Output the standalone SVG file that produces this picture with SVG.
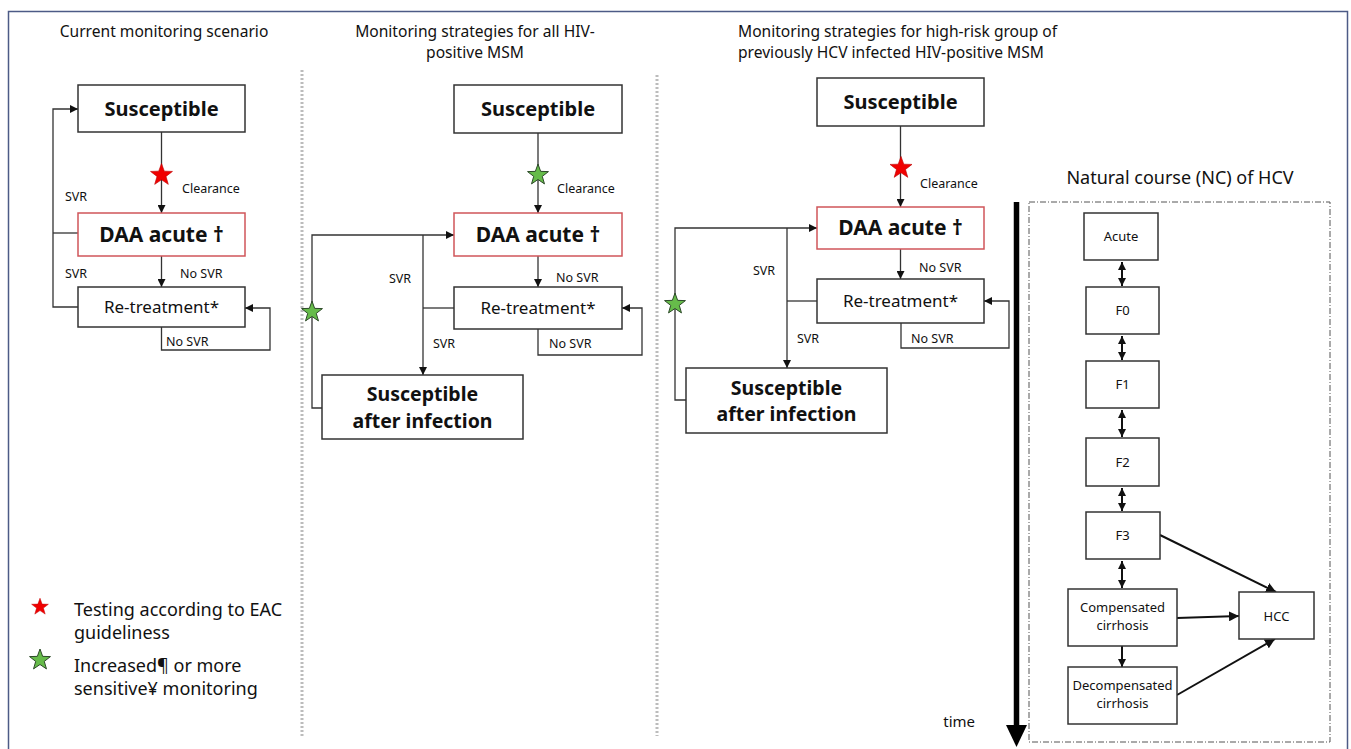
<svg xmlns="http://www.w3.org/2000/svg" width="1351" height="749" viewBox="0 0 1351 749">
<style>
text{font-family:"Noto Sans","Open Sans",sans-serif;fill:#111}
.title{font-size:15.6px}
.big{font-size:20px;font-weight:bold;text-anchor:middle}
.big2{font-size:19.5px;font-weight:bold;text-anchor:middle}
.daa{font-size:21px;font-weight:bold;text-anchor:middle}
.ret{font-size:17px;text-anchor:middle}
.lbl{font-size:12.5px}
.nc{font-size:13px;text-anchor:middle}
.leg{font-size:18px}
.box{fill:#fff;stroke:#333;stroke-width:1.5}
.rbox{fill:#fff;stroke:#d0555a;stroke-width:1.5}
.con{fill:none;stroke:#333;stroke-width:1.3}
.ncl{fill:none;stroke:#111;stroke-width:2}
.sep{stroke:#bcbcbc;stroke-width:3;stroke-dasharray:2 2}
.red{fill:#f00000;stroke:#c00000;stroke-width:0.6}
.grn{fill:#66bb4a;stroke:#2e4a2a;stroke-width:1}
</style>
<defs>
<marker id="arr" viewBox="0 0 8 8" refX="8" refY="4" markerWidth="8" markerHeight="8" markerUnits="userSpaceOnUse" orient="auto-start-reverse">
<path d="M0,0 L8,4 L0,8 Z" fill="#111"/>
</marker>
<marker id="arr2" viewBox="0 0 10 10" refX="10" refY="5" markerWidth="10" markerHeight="10" markerUnits="userSpaceOnUse" orient="auto-start-reverse">
<path d="M0,0 L10,5 L0,10 Z" fill="#111"/>
</marker>
<path id="star" d="M0,-11 L2.65,-3.64 L10.46,-3.4 L4.28,1.39 L6.47,8.9 L0,4.5 L-6.47,8.9 L-4.28,1.39 L-10.46,-3.4 L-2.65,-3.64 Z"/>
</defs>
<rect x="8.5" y="11.5" width="1339" height="760" fill="#fff" stroke="#4d5b86" stroke-width="1.5"/>
<g id="separators">
<line class="sep" x1="302" y1="70" x2="302" y2="736"/>
<line class="sep" x1="657" y1="75" x2="657" y2="736"/>
</g>
<g id="titles">
<text class="title" x="164" y="37" text-anchor="middle">Current monitoring scenario</text>
<text class="title" x="475" y="37" text-anchor="middle">Monitoring strategies for all HIV-</text>
<text class="title" x="475" y="58" text-anchor="middle">positive MSM</text>
<text class="title" x="738" y="37">Monitoring strategies for high-risk group of</text>
<text class="title" x="738" y="58">previously HCV infected HIV-positive MSM</text>
<text x="1180" y="184" text-anchor="middle" style="font-size:18px">Natural course (NC) of HCV</text>
</g>
<g id="connectors">
<line class="con" x1="161.5" y1="132" x2="161.5" y2="213" marker-end="url(#arr)"/>
<line class="con" x1="161.5" y1="256" x2="161.5" y2="287" marker-end="url(#arr)"/>
<path class="con" d="M78,307 H53 V109 H78" marker-end="url(#arr)"/>
<path class="con" d="M78,233 H53"/>
<path class="con" d="M161.5,327 V350 H270 V308 H245" marker-end="url(#arr)"/>
<line class="con" x1="538" y1="133" x2="538" y2="213" marker-end="url(#arr)"/>
<line class="con" x1="538" y1="256" x2="538" y2="287" marker-end="url(#arr)"/>
<path class="con" d="M322,408 H312 V235 H454" marker-end="url(#arr)"/>
<path class="con" d="M454,308 H423"/>
<path class="con" d="M423,235 V375" marker-end="url(#arr)"/>
<path class="con" d="M538,329 V355 H642 V308 H622" marker-end="url(#arr)"/>
<line class="con" x1="900.5" y1="126" x2="900.5" y2="207" marker-end="url(#arr)"/>
<line class="con" x1="900.5" y1="249" x2="900.5" y2="279" marker-end="url(#arr)"/>
<path class="con" d="M686,400 H675 V228 H817" marker-end="url(#arr)"/>
<path class="con" d="M817,301 H787"/>
<path class="con" d="M787,228 V368" marker-end="url(#arr)"/>
<path class="con" d="M901,323 V348 H1009 V301 H984" marker-end="url(#arr)"/>
<line class="ncl" x1="1122" y1="262" x2="1122" y2="286" marker-start="url(#arr)" marker-end="url(#arr)"/>
<line class="ncl" x1="1122" y1="336" x2="1122" y2="360" marker-start="url(#arr)" marker-end="url(#arr)"/>
<line class="ncl" x1="1122" y1="410" x2="1122" y2="437" marker-start="url(#arr)" marker-end="url(#arr)"/>
<line class="ncl" x1="1122" y1="488" x2="1122" y2="511" marker-start="url(#arr)" marker-end="url(#arr)"/>
<line class="ncl" x1="1122" y1="561" x2="1122" y2="588" marker-start="url(#arr)" marker-end="url(#arr)"/>
<line class="ncl" x1="1122" y1="646" x2="1122" y2="667" marker-end="url(#arr)"/>
<line class="ncl" x1="1160" y1="535" x2="1276" y2="592" marker-end="url(#arr2)"/>
<line class="ncl" x1="1177" y1="618" x2="1239" y2="616" marker-end="url(#arr2)"/>
<line class="ncl" x1="1177" y1="695" x2="1275" y2="639" marker-end="url(#arr2)"/>
<line x1="1016.5" y1="202" x2="1016.5" y2="728" stroke="#000" stroke-width="5.5"/>
<polygon points="1006,725 1027,725 1016.5,747" fill="#000"/>
</g>
<g id="labels">
<text class="lbl" x="182" y="193">Clearance</text>
<text class="lbl" x="65" y="201">SVR</text>
<text class="lbl" x="65" y="278">SVR</text>
<text class="lbl" x="180" y="278">No SVR</text>
<text class="lbl" x="166" y="346">No SVR</text>
<text class="lbl" x="557" y="193">Clearance</text>
<text class="lbl" x="389" y="283">SVR</text>
<text class="lbl" x="556" y="282">No SVR</text>
<text class="lbl" x="433" y="348">SVR</text>
<text class="lbl" x="549" y="348">No SVR</text>
<text class="lbl" x="920" y="188">Clearance</text>
<text class="lbl" x="753" y="275">SVR</text>
<text class="lbl" x="919" y="272">No SVR</text>
<text class="lbl" x="797" y="343">SVR</text>
<text class="lbl" x="911" y="343">No SVR</text>
<text x="975" y="727" text-anchor="end" style="font-size:15px">time</text>
</g>
<g id="left-susceptible"><rect class="box" x="78" y="85" width="167" height="47"/><text class="big" x="161.5" y="116">Susceptible</text></g>
<g id="left-daa"><rect class="rbox" x="78" y="213" width="167" height="43"/><text class="daa" x="161.5" y="242">DAA acute †</text></g>
<g id="left-retreat"><rect class="box" x="78" y="287" width="167" height="40"/><text class="ret" x="161.5" y="313">Re-treatment*</text></g>
<g id="mid-susceptible"><rect class="box" x="454" y="85" width="168" height="48"/><text class="big" x="538" y="116">Susceptible</text></g>
<g id="mid-daa"><rect class="rbox" x="454" y="213" width="168" height="43"/><text class="daa" x="538" y="242">DAA acute †</text></g>
<g id="mid-retreat"><rect class="box" x="454" y="287" width="168" height="42"/><text class="ret" x="538" y="314">Re-treatment*</text></g>
<g id="mid-sai"><rect class="box" x="322" y="375" width="201" height="64"/><text class="big2" x="422.5" y="401">Susceptible</text><text class="big2" x="422.5" y="427.5">after infection</text></g>
<g id="right-susceptible"><rect class="box" x="817" y="78" width="167" height="48"/><text class="big" x="900.5" y="109">Susceptible</text></g>
<g id="right-daa"><rect class="rbox" x="817" y="207" width="167" height="42"/><text class="daa" x="900.5" y="235">DAA acute †</text></g>
<g id="right-retreat"><rect class="box" x="817" y="279" width="167" height="44"/><text class="ret" x="900.5" y="307">Re-treatment*</text></g>
<g id="right-sai"><rect class="box" x="686" y="368" width="201" height="65"/><text class="big2" x="786.5" y="394.5">Susceptible</text><text class="big2" x="786.5" y="421">after infection</text></g>
<g id="nc-frame"><rect x="1029" y="202" width="301" height="540" fill="none" stroke="#555" stroke-width="1" stroke-dasharray="6 2 1 2"/></g>
<g id="nc-acute"><rect class="box" x="1084" y="213" width="74" height="47"/><text class="nc" x="1121" y="241">Acute</text></g>
<g id="nc-f0"><rect class="box" x="1086" y="287" width="73" height="47"/><text class="nc" x="1122.5" y="315">F0</text></g>
<g id="nc-f1"><rect class="box" x="1086" y="361" width="73" height="47"/><text class="nc" x="1122.5" y="389">F1</text></g>
<g id="nc-f2"><rect class="box" x="1086" y="438" width="73" height="48"/><text class="nc" x="1122.5" y="467">F2</text></g>
<g id="nc-f3"><rect class="box" x="1086" y="512" width="74" height="47"/><text class="nc" x="1122.5" y="540">F3</text></g>
<g id="nc-comp"><rect class="box" x="1068" y="589" width="109" height="57"/><text class="nc" x="1122.5" y="612">Compensated</text><text class="nc" x="1122.5" y="630">cirrhosis</text></g>
<g id="nc-decomp"><rect class="box" x="1068" y="667" width="109" height="57"/><text class="nc" x="1122.5" y="690">Decompensated</text><text class="nc" x="1122.5" y="708">cirrhosis</text></g>
<g id="nc-hcc"><rect class="box" x="1239" y="592" width="75" height="47"/><text class="nc" x="1276.5" y="621">HCC</text></g>
<g id="stars">
<use href="#star" class="red" transform="translate(161.5,175) scale(1.05)"/>
<use href="#star" class="grn" transform="translate(538,175)"/>
<use href="#star" class="grn" transform="translate(312,312)"/>
<use href="#star" class="red" transform="translate(901,168) scale(1.05)"/>
<use href="#star" class="grn" transform="translate(675,304)"/>
</g>
<g id="legend">
<use href="#star" class="red" transform="translate(40,607) scale(0.8)"/>
<text class="leg" x="74" y="616">Testing according to EAC</text>
<text class="leg" x="74" y="639">guideliness</text>
<use href="#star" class="grn" transform="translate(40,660)"/>
<text class="leg" x="74" y="672">Increased¶ or more</text>
<text class="leg" x="74" y="695">sensitive¥ monitoring</text>
</g>
</svg>
